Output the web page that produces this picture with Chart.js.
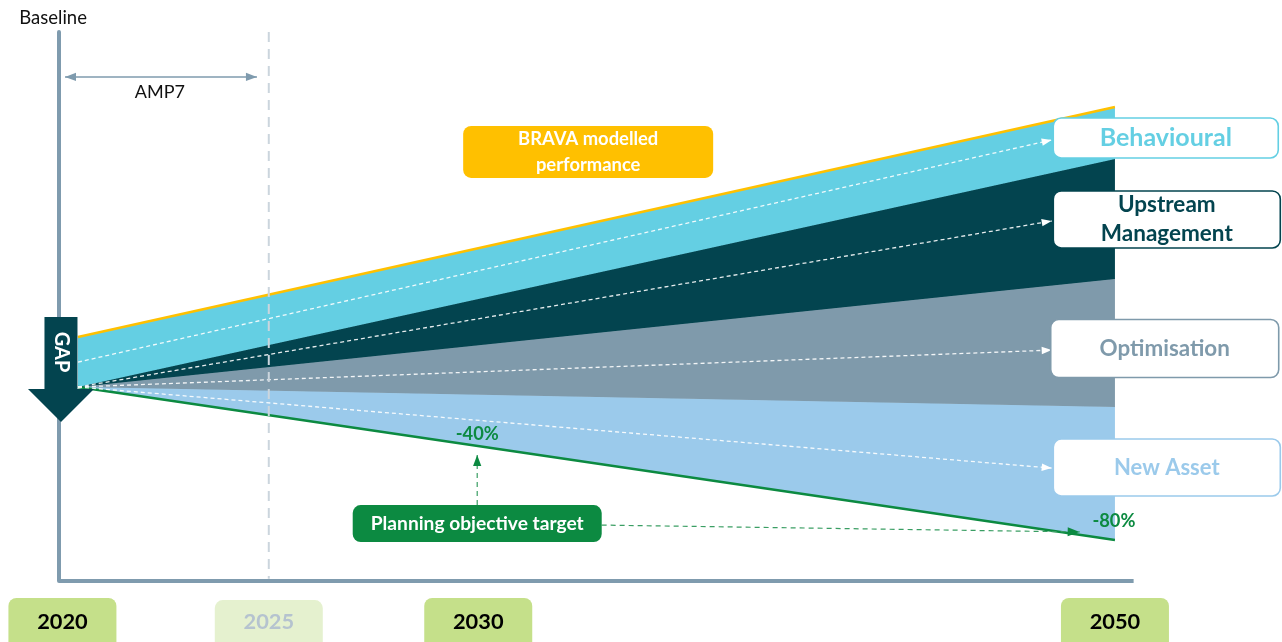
<!DOCTYPE html>
<html>
<head>
<meta charset="utf-8">
<script src="https://cdn.jsdelivr.net/npm/chart.js@4.4.0/dist/chart.umd.min.js"></script>
<style>
    html, body { margin: 0; padding: 0; background: #fff; }
    #wrap { width: 1282px; height: 642px; }
</style>
</head>
<body>
<div id="wrap"><canvas id="gapChart" width="1282" height="642"></canvas></div>
<script>
// timeline is schematic: 0 = 2020, 100 = 2050 (not to scale)
const timeline = [0, 100];
const bravaPerformance = [26.1, 146.4];
const behaviouralFloor = [0, 119.2];
const upstreamFloor = [0, 56.5];
const optimisationFloor = [0, -10.5];
const planningTarget = [0, -80];

const yearLabels = ['2020', '2025', '2030', '2050'];
const yearPositions = [-1.5, 18.4, 38.6, 100];
const yearFaded = [false, true, false, false];

const leverNames = ['Behavioural', 'Upstream\nManagement', 'Optimisation', 'New Asset'];
const leverStart = [13, 0, 0, 0];
const leverEnd = [129.2, 86.8, 19.3, -42.4];
const leverColors = ['#64CFE3', '#03444F', '#7F9AAB', '#9BCAEB'];

const targetLabels = ['-40%', '-80%'];

const YELLOW = '#FFC000';
const GREEN = '#0C8A41';
const AXIS = '#7F9BAE';
const FONT = 'Lato, "Open Sans", sans-serif';

function pts(xs, ys) {
    return xs.map((x, i) => ({ x: x, y: ys[i] }));
}

function drawArrowHead(ctx, tip, from, size, color) {
    var a = Math.atan2(tip.y - from.y, tip.x - from.x);
    var w = size * 0.75;
    ctx.beginPath();
    ctx.moveTo(tip.x, tip.y);
    ctx.lineTo(tip.x - size * Math.cos(a) - w / 2 * Math.sin(a), tip.y - size * Math.sin(a) + w / 2 * Math.cos(a));
    ctx.lineTo(tip.x - size * Math.cos(a) + w / 2 * Math.sin(a), tip.y - size * Math.sin(a) - w / 2 * Math.cos(a));
    ctx.closePath();
    ctx.fillStyle = color;
    ctx.fill();
}

function textLines(ctx, text, cx, cy, size, color, weight, lineH) {
    var lines = text.split('\n');
    ctx.font = `${weight} ${size}px ${FONT}`;
    ctx.fillStyle = color;
    ctx.textAlign = 'center';
    ctx.textBaseline = 'middle';
    var top = cy - (lines.length - 1) * lineH / 2;
    lines.forEach((l, i) => ctx.fillText(l, cx, top + i * lineH));
}

function box(ctx, cx, cy, w, h, r, fill, stroke, lw) {
    ctx.beginPath();
    ctx.roundRect(cx - w / 2, cy - h / 2, w, h, r);
    if (fill) { ctx.fillStyle = fill; ctx.fill(); }
    if (stroke) { ctx.lineWidth = lw; ctx.strokeStyle = stroke; ctx.stroke(); }
}

// label boxes anchored in chart units, sizes in px
const labelBoxes = [
    { text: leverNames[0], x: 104.9, y: 130.2, w: 225, h: 40, fill: '#fff', stroke: leverColors[0], color: leverColors[0], size: 25, lineH: 29 },
    { text: leverNames[1], x: 105.0, y: 87.6, w: 227, h: 57, fill: '#fff', stroke: leverColors[1], color: leverColors[1], size: 22.5, lineH: 29 },
    { text: leverNames[2], x: 104.8, y: 20.1, w: 228, h: 58, fill: '#fff', stroke: leverColors[2], color: leverColors[2], size: 22.4, lineH: 29 },
    { text: leverNames[3], x: 105.0, y: -42.1, w: 227, h: 57, fill: '#fff', stroke: leverColors[3], color: leverColors[3], size: 22, lineH: 29 },
    { text: 'BRAVA modelled\nperformance', x: 49.2, y: 122.9, w: 250, h: 52, fill: YELLOW, stroke: null, color: '#fff', size: 18.4, lineH: 26 },
    { text: 'Planning objective target', x: 38.5, y: -71.4, w: 249, h: 37, fill: GREEN, stroke: null, color: '#fff', size: 19.2, lineH: 26 }
];

const plainTexts = [
    { text: targetLabels[0], x: 38.5, y: -24.6, size: 18.3, color: GREEN, weight: 'bold' },
    { text: targetLabels[1], x: 99.9, y: -70.1, size: 18.3, color: GREEN, weight: 'bold' },
    { text: 'AMP7', x: 7.9, y: 154.2, size: 18, color: '#111', weight: 'normal' },
    { text: 'Baseline', x: -2.4, y: 192.9, size: 18.5, color: '#111', weight: 'normal' }
];

const overlay = {
    id: 'overlay',
    afterDatasetsDraw(chart) {
        const ctx = chart.ctx;
        const sx = chart.scales.x, sy = chart.scales.y;
        ctx.save();

        chart.data.datasets.forEach((ds, i) => {
            if (!ds.arrow) return;
            var p = chart.getDatasetMeta(i).data;
            if (ds.arrow.end) drawArrowHead(ctx, p[p.length - 1], p[p.length - 2], ds.arrow.size, ds.arrow.color);
            if (ds.arrow.start) drawArrowHead(ctx, p[0], p[1], ds.arrow.size, ds.arrow.color);
        });

        // GAP arrow
        var gx = sx.getPixelForValue(-1.64);
        var gTop = sy.getPixelForValue(36.6), gBase = sy.getPixelForValue(-1.05), gTip = sy.getPixelForValue(-18.3);
        ctx.beginPath();
        ctx.moveTo(gx - 16.5, gTop);
        ctx.lineTo(gx + 16.5, gTop);
        ctx.lineTo(gx + 16.5, gBase);
        ctx.lineTo(gx + 33, gBase);
        ctx.lineTo(gx, gTip);
        ctx.lineTo(gx - 33, gBase);
        ctx.lineTo(gx - 16.5, gBase);
        ctx.closePath();
        ctx.fillStyle = '#03444F';
        ctx.fill();
        ctx.save();
        ctx.translate(gx, (gTop + gBase) / 2 - 1);
        ctx.rotate(Math.PI / 2);
        textLines(ctx, 'GAP', 0, 0, 20, '#fff', 'bold', 20);
        ctx.restore();

        labelBoxes.forEach(b => {
            var cx = sx.getPixelForValue(b.x), cy = sy.getPixelForValue(b.y);
            box(ctx, cx, cy, b.w, b.h, 8, b.fill, b.stroke, 1.6);
            textLines(ctx, b.text, cx, cy, b.size, b.color, 'bold', b.lineH);
        });

        plainTexts.forEach(t => {
            textLines(ctx, t.text, sx.getPixelForValue(t.x), sy.getPixelForValue(t.y), t.size, t.color, t.weight, 20);
        });

        yearLabels.forEach((y, i) => {
            var cx = sx.getPixelForValue(yearPositions[i]);
            var top = sy.getPixelForValue(yearFaded[i] ? -111.4 : -110.3);
            ctx.beginPath();
            ctx.roundRect(cx - 54, top, 108, 56, 8);
            ctx.fillStyle = yearFaded[i] ? '#E5F1CF' : '#C5E08A';
            ctx.fill();
            textLines(ctx, y, cx, sy.getPixelForValue(-122.9), 21.8, yearFaded[i] ? '#B5C3CF' : '#000', 'bold', 20);
        });

        ctx.restore();
    }
};

function buildGapChart() {
    var ctx = document.getElementById('gapChart');
    var datasets = [
        { label: 'BRAVA modelled performance', data: pts(timeline, bravaPerformance), borderColor: YELLOW, borderWidth: 2.5, backgroundColor: leverColors[0], fill: '+1', order: 10 },
        { label: 'Behavioural', data: pts(timeline, behaviouralFloor), borderColor: leverColors[1], borderWidth: 1, backgroundColor: leverColors[1], fill: '+1', order: 11 },
        { label: 'Upstream Management', data: pts(timeline, upstreamFloor), borderColor: leverColors[2], borderWidth: 1, backgroundColor: leverColors[2], fill: '+1', order: 12 },
        { label: 'Optimisation', data: pts(timeline, optimisationFloor), borderColor: leverColors[3], borderWidth: 1, backgroundColor: leverColors[3], fill: '+1', order: 13 },
        { label: 'Planning objective target', data: pts(timeline, planningTarget), borderColor: GREEN, borderWidth: 2.5, fill: false, order: 5 }
    ];

    for (var i = 0; i < leverNames.length; i++) {
        datasets.push({
            label: leverNames[i] + ' arrow',
            data: pts([0, 93.9], [leverStart[i], leverEnd[i]]),
            borderColor: 'rgba(255,255,255,0.9)', borderWidth: 1.3, borderDash: [4, 3],
            fill: false, order: 4, arrow: { end: true, size: 10, color: '#fff' }
        });
    }

    // axes, 2025 marker, AMP7 span and target pointers
    datasets.push(
        { label: 'axis', data: [{ x: -1.83, y: 185.6 }, { x: -1.83, y: -101.4 }, { x: 101.8, y: -101.4 }], borderColor: AXIS, borderWidth: 4, borderJoinStyle: 'round', fill: false, order: 3 },
        { label: '2025', data: [{ x: yearPositions[1], y: 185.6 }, { x: yearPositions[1], y: -100.2 }], borderColor: '#CBD5DD', borderWidth: 2, borderDash: [10, 7], fill: false, order: 2 },
        { label: 'AMP7', data: [{ x: -1.25, y: 162.1 }, { x: 17.26, y: 162.1 }], borderColor: AXIS, borderWidth: 1.5, fill: false, order: 2, arrow: { start: true, end: true, size: 11, color: AXIS } },
        { label: 'to -40%', data: [{ x: 38.5, y: -61.7 }, { x: 38.5, y: -35.6 }], borderColor: '#3A9E63', borderWidth: 1.2, borderDash: [5, 4], fill: false, order: 2, arrow: { end: true, size: 11, color: GREEN } },
        { label: 'to -80%', data: [{ x: 50.5, y: -72.2 }, { x: 96.6, y: -75.8 }], borderColor: '#3A9E63', borderWidth: 1.2, borderDash: [5, 4], fill: false, order: 2, arrow: { end: true, size: 12, color: GREEN } }
    );

    new Chart(ctx, {
        type: 'line',
        data: { datasets: datasets },
        options: {
            responsive: false,
            animation: false,
            events: [],
            layout: { padding: 0 },
            elements: { point: { radius: 0 }, line: { tension: 0 } },
            plugins: { legend: { display: false }, tooltip: { enabled: false } },
            scales: {
                x: { type: 'linear', display: false, min: -7.52, max: 116.11 },
                y: { type: 'linear', display: false, min: -133.33, max: 202.35 }
            }
        },
        plugins: [overlay]
    });
}

buildGapChart();
</script>
</body>
</html>
